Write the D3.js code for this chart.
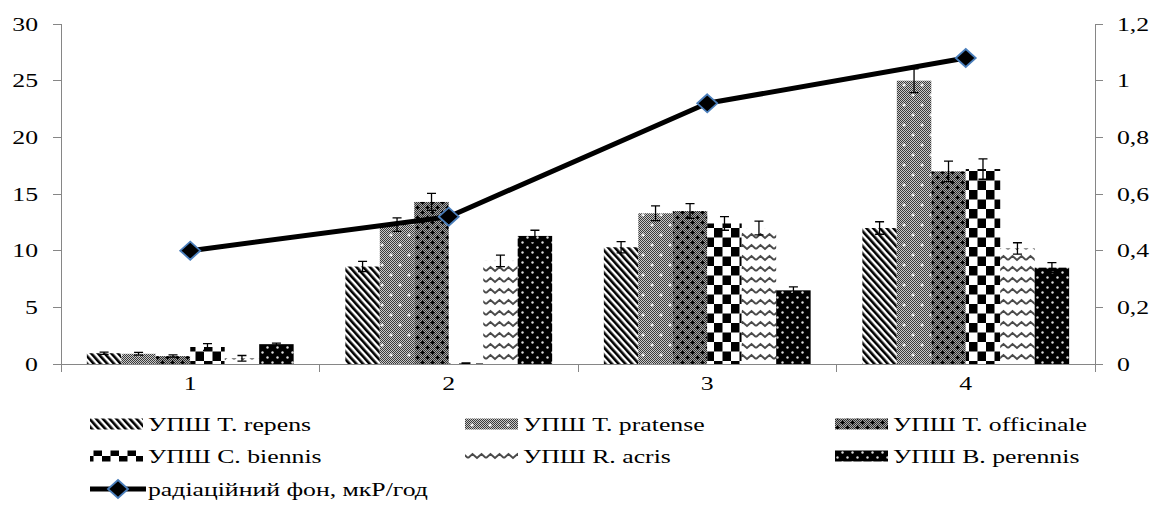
<!DOCTYPE html>
<html>
<head>
<meta charset="utf-8">
<script src="https://cdn.jsdelivr.net/npm/d3@7"></script>
<style>
  body { margin: 0; background: #fff; }
  svg { display: block; }
  text { font-family: "Liberation Serif", "Times New Roman", serif; font-size: 19.5px; fill: #000; }
</style>
</head>
<body>
<div id="chart"></div>
<script>
// categories on the x axis
var categories = ['1', '2', '3', '4'];

// series names (legend labels)
var seriesNames = ['УПШ T. repens', 'УПШ T. pratense', 'УПШ T. officinale',
                   'УПШ C. biennis', 'УПШ R. acris', 'УПШ B. perennis'];

// bar values per series
var repens     = [0.95, 8.6, 10.3, 12.0];
var pratense   = [0.9, 12.3, 13.3, 25.0];
var officinale = [0.7, 14.3, 13.5, 17.0];
var biennis    = [1.5, 0.05, 12.4, 17.2];
var acris      = [0.5, 9.1, 12.0, 10.2];
var perennis   = [1.75, 11.3, 6.5, 8.5];

// error bar half-ranges
var repensErr     = [0.1, 0.45, 0.5, 0.55];
var pratenseErr   = [0.12, 0.6, 0.65, 1.05];
var officinaleErr = [0.1, 0.75, 0.65, 0.9];
var biennisErr    = [0.3, 0.05, 0.6, 0.9];
var acrisErr      = [0.25, 0.5, 0.6, 0.5];
var perennisErr   = [0.1, 0.5, 0.3, 0.45];

// line series (right axis)
var lineName = 'радіаційний фон, мкР/год';
var radiation = [0.40, 0.52, 0.92, 1.08];

// tick labels
var leftTicks = [0, 5, 10, 15, 20, 25, 30];
var rightTicks = [0, 0.2, 0.4, 0.6, 0.8, 1, 1.2];

var seriesValues = [repens, pratense, officinale, biennis, acris, perennis];
var seriesErrors = [repensErr, pratenseErr, officinaleErr, biennisErr, acrisErr, perennisErr];
var patternIds = ['p-repens', 'p-pratense', 'p-officinale', 'p-biennis', 'p-acris', 'p-perennis'];

var width = 1154, height = 506;
var plotLeft = 61, plotRight = 1095, plotTop = 24, plotBottom = 364;
var sx = 1.32; // the picture is stretched horizontally
var axisColor = '#868686';

var svg = d3.select('#chart').append('svg')
  .attr('width', width)
  .attr('height', height);

var defs = svg.append('defs');

// helper: 1px checker path for a tile
function checkerPath(w, h) {
  var p = '';
  for (var yy = 0; yy < h; yy++) {
    for (var xx = 0; xx < w; xx++) {
      if ((xx + yy) % 2 === 0) { p += 'M' + xx + ',' + yy + 'h1v1h-1z'; }
    }
  }
  return p;
}
function plusPath(cx, cy, a) {
  return 'M' + (cx - a) + ',' + (cy - 0.5) + 'h' + (2 * a) + 'v1.2h' + (-2 * a) + 'z' +
         'M' + (cx - 0.5) + ',' + (cy - a) + 'h1.2v' + (2 * a) + 'h-1.2z';
}

// diagonal stripes
var pr = defs.append('pattern').attr('id', 'p-repens')
  .attr('patternUnits', 'userSpaceOnUse').attr('width', 5).attr('height', 5)
  .attr('patternTransform', 'rotate(-42)');
pr.append('rect').attr('width', 5).attr('height', 5).attr('fill', '#fff');
pr.append('rect').attr('width', 2.6).attr('height', 5).attr('fill', '#000');

// grey dither with white crosses
var pp = defs.append('pattern').attr('id', 'p-pratense')
  .attr('patternUnits', 'userSpaceOnUse').attr('width', 18).attr('height', 20);
pp.append('rect').attr('width', 18).attr('height', 20).attr('fill', '#c8c8c8');
pp.append('path').attr('d', checkerPath(18, 20)).attr('fill', '#3a3a3a').attr('shape-rendering', 'crispEdges');
pp.append('path').attr('d', plusPath(4, 5, 1.6) + plusPath(13, 15, 1.6)).attr('fill', '#fff');

// darker dither with black crosses
var po = defs.append('pattern').attr('id', 'p-officinale')
  .attr('patternUnits', 'userSpaceOnUse').attr('width', 10).attr('height', 10);
po.append('rect').attr('width', 10).attr('height', 10).attr('fill', '#a8a8a8');
po.append('path').attr('d', checkerPath(10, 10)).attr('fill', '#303030').attr('shape-rendering', 'crispEdges');
po.append('path').attr('d', plusPath(2.5, 2.5, 2.2) + plusPath(7.5, 7.5, 2.2)).attr('fill', '#000');

// large checkerboard
var pb = defs.append('pattern').attr('id', 'p-biennis')
  .attr('patternUnits', 'userSpaceOnUse').attr('width', 17).attr('height', 19);
pb.append('rect').attr('width', 17).attr('height', 19).attr('fill', '#fff');
pb.append('rect').attr('width', 8.5).attr('height', 9.5).attr('fill', '#000');
pb.append('rect').attr('x', 8.5).attr('y', 9.5).attr('width', 8.5).attr('height', 9.5).attr('fill', '#000');

// waves
var pa = defs.append('pattern').attr('id', 'p-acris')
  .attr('patternUnits', 'userSpaceOnUse').attr('width', 18).attr('height', 11);
pa.append('rect').attr('width', 18).attr('height', 11).attr('fill', '#fff');
pa.append('path').attr('d', 'M0,7 L4.5,3 L9,7 L13.5,3 L18,7')
  .attr('fill', 'none').attr('stroke', '#4a4a4a').attr('stroke-width', 2);

// black with white dots
var pd = defs.append('pattern').attr('id', 'p-perennis')
  .attr('patternUnits', 'userSpaceOnUse').attr('width', 10).attr('height', 10);
pd.append('rect').attr('width', 10).attr('height', 10).attr('fill', '#000');
pd.append('circle').attr('cx', 2.5).attr('cy', 2.5).attr('r', 1.2).attr('fill', '#ddd');
pd.append('circle').attr('cx', 7.5).attr('cy', 7.5).attr('r', 1.2).attr('fill', '#ddd');

// scales
var x = d3.scaleBand().domain(categories).range([plotLeft, plotRight]);
var xs = d3.scaleBand().domain(d3.range(seriesNames.length))
  .range([0, x.bandwidth()]).paddingInner(0).paddingOuter(0.75);
var y = d3.scaleLinear().domain([0, 30]).range([plotBottom, plotTop]);
var y2 = d3.scaleLinear().domain([0, 1.2]).range([plotBottom, plotTop]);

// bars
var barData = [];
seriesValues.forEach(function(vals, s) {
  vals.forEach(function(v, i) {
    barData.push({ s: s, cat: categories[i], v: v, e: seriesErrors[s][i] });
  });
});

svg.append('g').selectAll('rect')
  .data(barData).enter().append('rect')
  .attr('x', function(d) { return x(d.cat) + xs(d.s); })
  .attr('y', function(d) { return y(d.v); })
  .attr('width', xs.bandwidth())
  .attr('height', function(d) { return plotBottom - y(d.v); })
  .attr('fill', function(d) { return 'url(#' + patternIds[d.s] + ')'; });

// error bars
var eg = svg.append('g').attr('stroke', '#000').attr('stroke-width', 1.3).attr('fill', 'none');
barData.forEach(function(d) {
  var cx = x(d.cat) + xs(d.s) + xs.bandwidth() / 2;
  var y0 = y(Math.max(0, d.v - d.e)), y1 = y(d.v + d.e);
  eg.append('path').attr('d', 'M' + cx + ',' + y0 + 'V' + y1 +
    'M' + (cx - 4.5) + ',' + y0 + 'h9M' + (cx - 4.5) + ',' + y1 + 'h9');
});

// axes
var ax = svg.append('g').attr('stroke', axisColor).attr('stroke-width', 1).attr('fill', 'none')
  .attr('shape-rendering', 'crispEdges');
ax.append('path').attr('d', 'M' + plotLeft + ',' + plotTop + 'V' + plotBottom);
ax.append('path').attr('d', 'M' + plotRight + ',' + plotTop + 'V' + plotBottom);
ax.append('path').attr('d', 'M' + plotLeft + ',' + plotBottom + 'H' + plotRight);
leftTicks.forEach(function(t) {
  ax.append('path').attr('d', 'M' + (plotLeft - 8) + ',' + y(t) + 'H' + plotLeft);
});
rightTicks.forEach(function(t) {
  ax.append('path').attr('d', 'M' + plotRight + ',' + y2(t) + 'H' + (plotRight + 8));
});
categories.map(function(c) { return x(c); }).concat([plotRight]).forEach(function(px) {
  ax.append('path').attr('d', 'M' + px + ',' + plotBottom + 'V' + (plotBottom + 8));
});

function stretchedText(g, tx, ty, str, anchor) {
  return g.append('text')
    .attr('transform', 'translate(' + tx + ',' + ty + ') scale(' + sx + ',1)')
    .attr('text-anchor', anchor || 'start')
    .text(str);
}

var fmt = function(v) { return String(v).replace('.', ','); };
var tg = svg.append('g');
leftTicks.forEach(function(t) {
  stretchedText(tg, 38, y(t) + 6.5, fmt(t), 'end');
});
rightTicks.forEach(function(t) {
  stretchedText(tg, 1117, y2(t) + 6.5, fmt(t), 'start');
});
categories.forEach(function(c) {
  stretchedText(tg, x(c) + x.bandwidth() / 2, 390, c, 'middle');
});

// radiation line
var line = d3.line()
  .x(function(d, i) { return x(categories[i]) + x.bandwidth() / 2; })
  .y(function(d) { return y2(d); });

svg.append('path').datum(radiation)
  .attr('d', line)
  .attr('fill', 'none')
  .attr('stroke', '#000')
  .attr('stroke-width', 5)
  .attr('stroke-linejoin', 'round');

function diamond(cx, cy) {
  return 'M' + cx + ',' + (cy - 9) + 'L' + (cx + 10) + ',' + cy + 'L' + cx + ',' + (cy + 9) +
         'L' + (cx - 10) + ',' + cy + 'Z';
}
svg.append('g').selectAll('path')
  .data(radiation).enter().append('path')
  .attr('d', function(d, i) { return diamond(x(categories[i]) + x.bandwidth() / 2, y2(d)); })
  .attr('fill', '#000')
  .attr('stroke', '#4a7ebb')
  .attr('stroke-width', 1.8);

// legend
var legCols = [90, 465, 835];
var legRows = [424, 456, 489];
var lg = svg.append('g');
seriesNames.forEach(function(name, s) {
  var cx = legCols[s % 3], cy = legRows[Math.floor(s / 3)];
  lg.append('rect')
    .attr('x', cx).attr('y', cy - 5.5)
    .attr('width', 53).attr('height', 11)
    .attr('fill', 'url(#' + patternIds[s] + ')');
  stretchedText(lg, cx + 58, cy + 7, name, 'start');
});
var ly = legRows[2];
lg.append('path').attr('d', 'M' + legCols[0] + ',' + ly + 'H' + (legCols[0] + 56))
  .attr('stroke', '#000').attr('stroke-width', 5);
lg.append('path').attr('d', diamond(legCols[0] + 28, ly))
  .attr('fill', '#000').attr('stroke', '#4a7ebb').attr('stroke-width', 1.8);
stretchedText(lg, legCols[0] + 58, ly + 7, lineName, 'start');
</script>
</body>
</html>
